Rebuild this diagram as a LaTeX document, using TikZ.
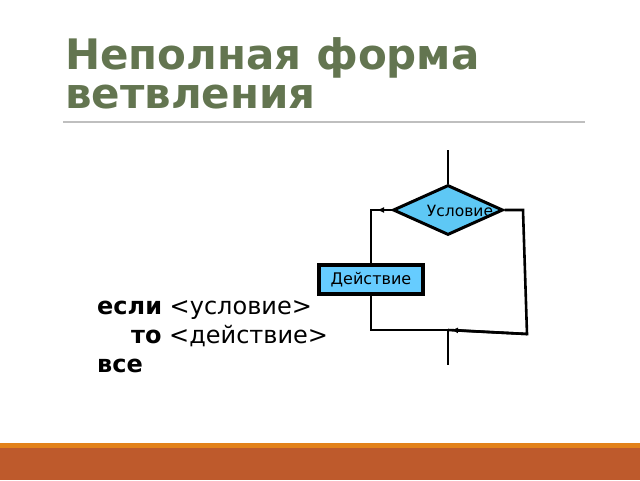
\documentclass[tikz,border=0pt]{standalone}
\usepackage{fontspec}
\setmainfont{DejaVu Sans}
\usepackage{xcolor}
\usetikzlibrary{shapes.geometric, arrows.meta, positioning, calc}

\definecolor{titlegreen}{HTML}{637550}
\definecolor{flowblue}{HTML}{5EC8F5}
\definecolor{boxblue}{HTML}{66CCFF}
\definecolor{bandorange}{HTML}{E3821A}
\definecolor{bandbrown}{HTML}{BE5A2C}

\tikzset{
	flowline/.style={line width=2.6pt},
	flowtip/.style={-{Latex[length=7pt,width=6pt]}},
	condbox/.style={diamond, draw, line width=3pt, fill=flowblue, minimum width=110pt, minimum height=50pt, inner sep=0pt},
	actbox/.style={rectangle, draw, line width=3.2pt, fill=boxblue, minimum width=104pt, minimum height=29pt, inner sep=0pt},
	codeline/.style={anchor=base west, font=\fontsize{24}{28}\selectfont, inner sep=0pt}
}

\begin{document}
\begin{tikzpicture}[x=1pt, y=-1pt]
		\useasboundingbox (0,0) rectangle (640,480);
		
		% Title
		\node[anchor=base west, inner sep=0pt, text=titlegreen, font=\fontsize{42}{42}\bfseries] (title1) at (65,69) {Неполная форма};
		\node[anchor=base west, inner sep=0pt, text=titlegreen, font=\fontsize{42}{42}\bfseries] (title2) at (65,108) {ветвления};
		\draw[line width=1.5pt, color=black!25] (63,122) -- (585,122);
		
		% Bottom bands
		\fill[bandorange] (0,443) rectangle (640,448);
		\fill[bandbrown] (0,448) rectangle (640,480);
		
		% Code
		\node[codeline] (if) at (97,314) {\textbf{если} <условие>};
		\node[codeline] (then) at (131,343) {\textbf{то} <действие>};
		\node[codeline] (end) at (97,372) {\textbf{все}};
		
		% Flowchart
		\coordinate (in) at (448,150);
		\coordinate (out) at (448,365);
		\coordinate (jn) at (448,330);
		\coordinate (lc) at (371,210);
		\coordinate (lb) at (371,330);
		\coordinate (rc) at (523,210);
		\coordinate (rb) at (527,334);
		
		\node[condbox] (cond) at (448,210) {};
		\node[font=\fontsize{15.5}{18}\selectfont, inner sep=0pt] (condtext) at (460,211) {Условие};
		\node[actbox] (act) at (371,279.5) {};
		\node[font=\fontsize{16}{19}\selectfont, inner sep=0pt] (acttext) at (act) {Действие};
		
		\draw[flowline] (in) -- (cond.north);
		\draw[flowline] (cond.west) -- (lc) -- (act.north);
		\draw[flowline, flowtip] (cond.west) -- ($(lc)+(6,0)$);
		\draw[flowline] (act.south) -- (lb) -- (jn);
		\draw[flowline] (cond.east) -- (rc) -- (rb) -- (jn);
		\draw[flowline, flowtip] (rb) -- ($(jn)+(3,0)$);
		\draw[flowline] (jn) -- (out);
	\end{tikzpicture}
\end{document}
